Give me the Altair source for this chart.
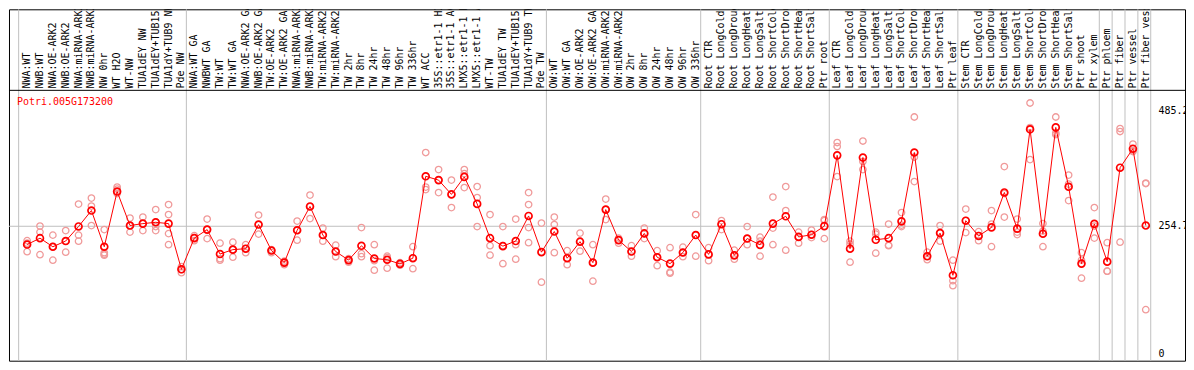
import altair as alt
import pandas as pd

gene = "Potri.005G173200"

labels = [
    "NWA:WT", "NWB:WT", "NWA:OE-ARK2", "NWB:OE-ARK2", "NWA:miRNA-ARK2", "NWB:miRNA-ARK2",
    "NW 0hr", "WT H2O", "WT-NW", "TUA1dEY NW", "TUA1dEY+TUB15 NW", "TUA1dY+TUB9 NW", "Pde NW",
    "NWA:WT GA", "NWBWT GA", "TW:WT", "TW:WT GA", "NWA:OE-ARK2 GA", "NWB:OE-ARK2 GA",
    "TW:OE-ARK2", "TW:OE-ARK2 GA", "NWA:miRNA-ARK2 GA", "NWB:miRNA-ARK2 GA", "TW:miRNA-ARK2",
    "TW:miRNA-ARK2 GA", "TW 2hr", "TW 8hr", "TW 24hr", "TW 48hr", "TW 96hr", "TW 336hr",
    "WT ACC", "35S::etr1-1 H2O", "35S::etr1-1 ACC", "LMX5::etr1-1 H2O", "LMX5::etr1-1 ACC",
    "WT-TW", "TUA1dEY TW", "TUA1dEY+TUB15 TW", "TUA1dY+TUB9 TW", "Pde TW",
    "OW:WT", "OW:WT GA", "OW:OE-ARK2", "OW:OE-ARK2 GA", "OW:miRNA-ARK2", "OW:miRNA-ARK2 GA",
    "OW 2hr", "OW 8hr", "OW 24hr", "OW 48hr", "OW 96hr", "OW 336hr",
    "Root CTR", "Root LongCold", "Root LongDrought", "Root LongHeat", "Root LongSalt",
    "Root ShortCold", "Root ShortDrought", "Root ShortHeat", "Root ShortSalt", "Ptr root",
    "Leaf CTR", "Leaf LongCold", "Leaf LongDrought", "Leaf LongHeat", "Leaf LongSalt",
    "Leaf ShortCold", "Leaf ShortDrought", "Leaf ShortHeat", "Leaf ShortSalt", "Ptr leaf",
    "Stem CTR", "Stem LongCold", "Stem LongDrought", "Stem LongHeat", "Stem LongSalt",
    "Stem ShortCold", "Stem ShortDrought", "Stem ShortHeat", "Stem ShortSalt", "Ptr shoot",
    "Ptr xylem", "Ptr phloem", "Ptr fiber", "Ptr vessel", "Ptr fiber vessel",
]

group_sizes = [13, 28, 12, 10, 10, 11, 1, 1, 1, 1]

means = [
    218.2, 230.9, 213.8, 225.2, 254.3, 286.1, 213.8, 324.1, 256.2, 260.0, 262.6, 260.0, 168.7,
    231, 248, 199.2, 208, 209.9, 258.1, 206.2, 182, 246.7, 294.3, 237.2, 204.2, 187.1, 215.7,
    190.3, 187.8, 179.5, 190.9, 354.5, 346.9, 318.4, 353.3, 299.4, 230.9, 215, 225.2, 275.3, 203,
    244.2, 190.9, 223.9, 182, 288, 227.1, 204.2, 240.4, 192.8, 180.1, 202.3, 237.2,
    198.5, 258.8, 196.6, 230.2, 217.6, 260, 274.6, 233.4, 237.8, 255,
    396.4, 209.9, 392, 227.7, 230.9, 264.5, 402.1, 194.7, 241, 156.7,
    265.8, 235.3, 252.4, 322.2, 249.9, 448.4, 239.8, 452.2, 333.6, 180.1, 259.4,
    184, 371.7, 409.7, 256.2,
]

replicates = [
    [226, 221, 204], [255, 243, 198], [237, 214, 187], [246, 225, 203], [299, 237, 225],
    [311, 295, 256], [248, 202, 197, 199], [333, 329, 320], [271, 256, 243], [273, 260, 246],
    [288, 263, 254, 246], [298, 278, 240, 218], [174, 168, 162],
    [236, 232, 226], [269, 248, 230], [221, 190, 187], [223, 208, 193], [218, 210, 202],
    [277, 258, 239], [208, 206, 202], [185, 182, 178], [265, 247, 227], [317, 294, 270],
    [251, 237, 225], [217, 204, 194], [190, 187, 183], [252, 200, 194], [218, 186, 167],
    [195, 192, 171], [182, 179, 177], [214, 191, 170], [402, 333, 328], [368, 347, 322],
    [347, 318, 292], [368, 360, 332], [334, 312, 254], [278, 216, 197], [254, 216, 180],
    [269, 218, 189], [322, 298, 252, 222], [261, 203, 143],
    [273, 258, 202], [206, 191, 178], [241, 224, 205], [218, 182, 145], [309, 288, 268],
    [231, 227, 221], [216, 204, 195], [251, 240, 230], [206, 193, 176], [212, 163, 161],
    [213, 202, 194], [278, 237, 195],
    [212, 198, 186], [266, 259, 248], [207, 197, 189], [254, 230, 218], [233, 225, 195],
    [313, 251, 218], [334, 286, 207], [243, 233, 221], [247, 238, 232], [268, 266, 230],
    [422, 414, 354], [225, 219, 183], [425, 384, 368], [243, 239, 201], [259, 217, 216],
    [282, 257, 254], [473, 393, 344], [203, 195, 188], [256, 242, 225], [187, 146, 136],
    [289, 266, 242], [244, 236, 226], [286, 259, 214], [374, 320, 273], [269, 243, 238],
    [501, 452, 388], [260, 245, 214], [473, 441, 438], [357, 339, 306], [202, 187, 151],
    [292, 255, 231], [222, 165, 165], [450, 444, 223], [419, 406, 404], [341, 340, 88],
]

ytick_values = [0, 254.7, 485.2]
ytick_labels = ["0", "254.7", "485.2"]

# ---------------- layout ----------------
W, H = 1178, 352
FONT = "DejaVu Sans Mono"
X_DOMAIN = [-1.41, 90.05]
Y_DOMAIN = [-13.9, 688.2]
LABEL_Y = 530
HEADER_LINE_Y = 526.3

xs = alt.Scale(domain=X_DOMAIN, nice=False, zero=False)
ys = alt.Scale(domain=Y_DOMAIN, nice=False, zero=False)

idx = list(range(len(labels)))
mean_df = pd.DataFrame({"i": idx, "v": means, "label": labels})
rep_df = pd.DataFrame(
    [{"i": i, "v": v} for i, vals in enumerate(replicates) for v in vals]
)

ends = []
acc = 0
for g in group_sizes:
    acc += g
    ends.append(acc - 1 + 5 / 13)
seps = [-0.66] + ends
sep_df = pd.DataFrame({"x": seps})
tick_df = pd.DataFrame({"v": ytick_values, "t": ytick_labels})

hline_df = pd.DataFrame({
    "y": [HEADER_LINE_Y, ytick_values[1]],
    "x0": [X_DOMAIN[0], X_DOMAIN[0]],
    "x1": [X_DOMAIN[1], seps[-1]],
    "c": ["black", "#c0c0c0"],
})
title_df = pd.DataFrame({"t": [gene], "x": [-0.79], "y": [503.6]})

X = lambda f: alt.X(f, type="quantitative", scale=xs, axis=None)
Y = lambda f: alt.Y(f, type="quantitative", scale=ys, axis=None)

separators = alt.Chart(sep_df).mark_rule(color="#c0c0c0", strokeWidth=1).encode(
    x=X("x"), y=alt.value(0), y2=alt.value(H)
)

hlines = alt.Chart(hline_df).mark_rule(strokeWidth=1).encode(
    y=Y("y"), x=X("x0"), x2="x1", color=alt.Color("c:N", scale=None)
)

cat_labels = alt.Chart(mean_df).mark_text(
    angle=270, align="left", baseline="middle", font=FONT, fontSize=10,
    color="black", clip=True,
).encode(
    x=X("i"),
    y=alt.Y(datum=LABEL_Y, type="quantitative", scale=ys, axis=None),
    text="label:N",
)

title = alt.Chart(title_df).mark_text(
    align="left", baseline="middle", font=FONT, fontSize=10, color="#ff0000"
).encode(x=X("x"), y=Y("y"), text="t:N")

ytext = alt.Chart(tick_df).mark_text(
    align="left", baseline="middle", font=FONT, fontSize=10, color="black"
).encode(
    x=alt.X(datum=87.98, type="quantitative", scale=xs, axis=None),
    y=Y("v"),
    text="t:N",
)

rep_pts = alt.Chart(rep_df).mark_point(
    shape="circle", filled=False, color="#f09a9a", size=42, strokeWidth=1.3, opacity=1
).encode(x=X("i"), y=Y("v"))

line = alt.Chart(mean_df).mark_line(color="#ff0000", strokeWidth=1).encode(
    x=X("i"), y=Y("v")
)

mean_pts = alt.Chart(mean_df).mark_point(
    shape="circle", filled=False, color="#ff0000", size=48, strokeWidth=1.7, opacity=1
).encode(x=X("i"), y=Y("v"))

chart = (
    alt.layer(separators, hlines, cat_labels, title, ytext,
              rep_pts, line, mean_pts)
    .properties(width=W, height=H, padding=1,
                autosize=alt.AutoSizeParams(type="none"))
    .configure_view(stroke="black", strokeWidth=1)
)

chart.save("out.html", embed_options={"renderer": "svg", "actions": False})
